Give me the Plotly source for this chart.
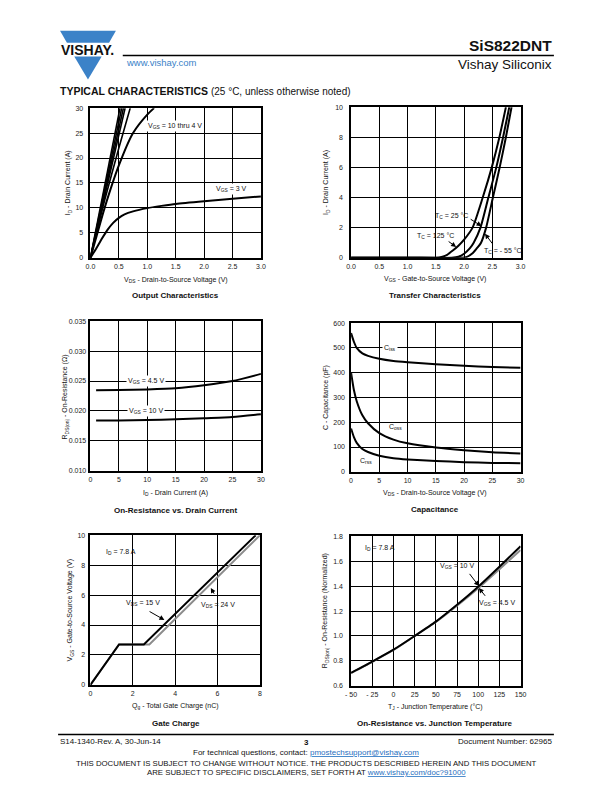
import plotly.graph_objects as go

# page geometry (the browser adds an 8px body margin, so the figure is placed at 8,8;
# the figure is sized so the page never overflows the 612x792 window)
PAGE_W, PAGE_H = 612, 792
OFF = 8
W, H = PAGE_W - 2 * OFF, PAGE_H - 2 * OFF
FONT = "Liberation Sans, Arial, sans-serif"

# ---------------- data ----------------
# Output characteristics (VDS in V, ID in A)
oc_steep_v = [[0, 0.52], [0, 0.55], [0, 0.58], [0, 0.61]]
oc_steep_i = [[0, 30], [0, 30], [0, 30], [0, 30]]
oc_vgs5_v = [0, 0.25, 0.5, 0.70]
oc_vgs5_i = [0, 11.5, 22, 30]
oc_vgs4_v = [0, 0.1, 0.25, 0.5, 0.75, 1.0, 1.12]
oc_vgs4_i = [0, 4, 10, 18.5, 25, 28.7, 30]
oc_vgs3_v = [0, 0.1, 0.2, 0.3, 0.4, 0.5, 0.6, 0.75, 1.0, 1.25, 1.5, 2.0, 2.5, 3.0]
oc_vgs3_i = [0, 1.8, 3.8, 5.6, 7.0, 8.0, 8.7, 9.3, 9.95, 10.4, 10.8, 11.35, 11.85, 12.3]

# Transfer characteristics (VGS in V, ID in A)
tc125_v = [0, 1.0, 1.5, 1.6, 1.7, 1.8, 1.9, 2.0, 2.15, 2.33, 2.49, 2.625, 2.74]
tc125_i = [0, 0, 0, 0.05, 0.2, 0.48, 0.8, 1.2, 2.0, 4.0, 6.0, 8.0, 10.0]
tc25_v = [0, 1.0, 1.78, 1.9, 2.0, 2.1, 2.17, 2.29, 2.43, 2.57, 2.69, 2.80]
tc25_i = [0, 0, 0, 0.07, 0.27, 0.62, 1.0, 2.0, 4.0, 6.0, 8.0, 10.0]
tcm55_v = [0, 1.0, 1.95, 2.05, 2.15, 2.22, 2.30, 2.39, 2.51, 2.63, 2.74, 2.84]
tcm55_i = [0, 0, 0, 0.06, 0.3, 0.6, 1.0, 2.0, 4.0, 6.0, 8.0, 10.0]

# On-resistance vs drain current
rds_id = [1, 5, 10, 15, 20, 25, 30]
rds_vgs45 = [0.02345, 0.0235, 0.0236, 0.0238, 0.0243, 0.0250, 0.0262]
rds_vgs10 = [0.0184, 0.01842, 0.0185, 0.0186, 0.0188, 0.0190, 0.01945]

# Capacitance (VDS in V, C in pF)
cap_v = [0, 0.5, 1, 2, 3, 5, 7.5, 10, 15, 20, 25, 30]
cap_ciss = [560, 525, 500, 478, 468, 456, 447, 442, 434, 428, 423, 420]
cap_coss = [400, 330, 285, 228, 196, 156, 130, 115, 98, 87, 79, 74]
cap_crss = [175, 140, 117, 92, 80, 65, 55, 50, 44, 39, 36, 35]

# Gate charge (Qg in nC, VGS in V)
gc_qg_15 = [0, 1.35, 2.52, 7.8]
gc_vgs_15 = [0, 2.7, 2.7, 10]
gc_qg_24 = [0, 1.35, 2.78, 8.0]
gc_vgs_24 = [0, 2.7, 2.7, 10]

# Normalized on-resistance vs junction temperature
tj = [-50, -25, 0, 25, 50, 75, 100, 125, 150]
rn_vgs10 = [0.705, 0.795, 0.89, 1.0, 1.115, 1.25, 1.395, 1.555, 1.72]
rn_vgs45 = [0.703, 0.793, 0.888, 1.0, 1.112, 1.243, 1.383, 1.535, 1.69]

tj_ticks = [-50, -25, 0, 25, 50, 75, 100, 125, 150]
tj_ticktext = ["- 50", "- 25", "0", "25", "50", "75", "100", "125", "150"]

# ---------------- helpers ----------------
def px(x):
    return (x - OFF) / W

def py(y):
    return 1 - (y - OFF) / H

fig = go.Figure()

BLACK = "#000000"
GRAY = "#8c8c8c"

def add_line(x, y, n, color=BLACK, shape="spline", width=2):
    xa = "x" if n == 1 else f"x{n}"
    ya = "y" if n == 1 else f"y{n}"
    fig.add_trace(go.Scatter(x=x, y=y, mode="lines", xaxis=xa, yaxis=ya,
                             line=dict(color=color, width=width, shape=shape, smoothing=0.6),
                             showlegend=False, hoverinfo="skip"))

# chart 1
for xv, yv in zip(oc_steep_v, oc_steep_i):
    add_line(xv, yv, 1, shape="linear", width=1.6)
add_line(oc_vgs5_v, oc_vgs5_i, 1, width=1.6)
add_line(oc_vgs4_v, oc_vgs4_i, 1)
add_line(oc_vgs3_v, oc_vgs3_i, 1)
# chart 2
add_line(tc125_v, tc125_i, 2)
add_line(tc25_v, tc25_i, 2)
add_line(tcm55_v, tcm55_i, 2)
# chart 3
add_line(rds_id, rds_vgs45, 3)
add_line(rds_id, rds_vgs10, 3)
# chart 4
add_line(cap_v, cap_ciss, 4)
add_line(cap_v, cap_coss, 4)
add_line(cap_v, cap_crss, 4)
# chart 5
add_line(gc_qg_24, gc_vgs_24, 5, color=GRAY, shape="linear")
add_line(gc_qg_15, gc_vgs_15, 5, shape="linear")
# chart 6
add_line(tj, rn_vgs45, 6, color=GRAY)
add_line(tj, rn_vgs10, 6)

# ---------------- axes ----------------
boxes = {
    1: (86, 260, 105, 256),
    2: (352, 525, 104, 256),
    3: (86, 260, 320, 471),
    4: (352, 525, 322, 472),
    5: (86, 259, 536, 687),
    6: (352, 525, 537, 688),
}
ystand = {1: 4, 2: 5, 3: 1, 4: 3, 5: 2, 6: 5}
xcfg = {
    1: dict(range=[0, 3], dtick=0.5, tick0=0, tickformat=".1f"),
    2: dict(range=[0, 3], dtick=0.5, tick0=0, tickformat=".1f"),
    3: dict(range=[0, 30], dtick=5, tick0=0),
    4: dict(range=[0, 30], dtick=5, tick0=0),
    5: dict(range=[0, 8], dtick=2, tick0=0),
    6: dict(range=[-50, 150], tickmode="array", tickvals=tj_ticks, ticktext=tj_ticktext),
}
ycfg = {
    1: dict(range=[0, 30], dtick=5, tick0=0),
    2: dict(range=[0, 10], dtick=2, tick0=0),
    3: dict(range=[0.010, 0.035], dtick=0.005, tick0=0.010, tickformat=".3f"),
    4: dict(range=[0, 600], dtick=100, tick0=0),
    5: dict(range=[0, 10], dtick=2, tick0=0),
    6: dict(range=[0.6, 1.8], dtick=0.2, tick0=0.6, tickformat=".1f"),
}
common = dict(showgrid=True, gridcolor=BLACK, gridwidth=1, showline=True, linecolor=BLACK,
              linewidth=1.5, mirror=True, zeroline=False, ticks="", fixedrange=True,
              tickfont=dict(family=FONT, size=7, color="#222"))
layout_axes = {}
for n, (x0, x1, y0, y1) in boxes.items():
    xname = "xaxis" if n == 1 else f"xaxis{n}"
    yname = "yaxis" if n == 1 else f"yaxis{n}"
    xd = dict(common, domain=[px(x0), px(x1)], anchor="y" if n == 1 else f"y{n}",
              ticklabelstandoff=1, **xcfg[n])
    yd = dict(common, domain=[py(y1), py(y0)], anchor="x" if n == 1 else f"x{n}",
              ticklabelstandoff=ystand[n], **ycfg[n])
    layout_axes[xname] = xd
    layout_axes[yname] = yd

fig.update_layout(width=W, height=H, margin=dict(l=0, r=0, t=0, b=0),
                  paper_bgcolor="white", plot_bgcolor="white", showlegend=False,
                  font=dict(family=FONT, color="#111"), **layout_axes)

ann = []

def text(x, y, s, size=7, bold=False, anchor="center", color="#111", angle=0, bg=None, yanchor="middle"):
    if bold:
        s = f"<b>{s}</b>"
    d = dict(xref="paper", yref="paper", x=px(x), y=py(y), text=s, showarrow=False,
             xanchor=anchor, yanchor=yanchor, textangle=angle,
             font=dict(family=FONT, size=size, color=color))
    if bg:
        d.update(bgcolor=bg, borderpad=1)
    ann.append(d)

def dtext(n, x, y, s, size=7, bg="white"):
    xr = "x" if n == 1 else f"x{n}"
    yr = "y" if n == 1 else f"y{n}"
    d = dict(xref=xr, yref=yr, x=x, y=y, text=s, showarrow=False,
             font=dict(family=FONT, size=size, color="#111"), xanchor="center", yanchor="middle")
    if bg:
        d.update(bgcolor=bg, borderpad=1)
    ann.append(d)

def arrow(n, x_head, y_head, x_tail, y_tail):
    xr = "x" if n == 1 else f"x{n}"
    yr = "y" if n == 1 else f"y{n}"
    ann.append(dict(xref=xr, yref=yr, axref=xr, ayref=yr, x=x_head, y=y_head, ax=x_tail, ay=y_tail,
                    text="", showarrow=True, arrowhead=2, arrowsize=1, arrowwidth=1, arrowcolor=BLACK))

# in-chart labels
dtext(1, 1.48, 26.4, "V<sub>GS</sub> = 10 thru 4 V")
dtext(1, 2.48, 13.8, "V<sub>GS</sub> = 3 V")

dtext(2, 1.78, 2.78, "T<sub>C</sub> = 25 °C", bg=None)
arrow(2, 2.31, 2.1, 2.09, 2.62)
dtext(2, 1.49, 1.45, "T<sub>C</sub> = 125 °C", bg=None)
arrow(2, 1.86, 0.72, 1.70, 1.15)
dtext(2, 2.69, 0.46, "T<sub>C</sub> = - 55 °C", bg=None)
arrow(2, 2.37, 1.6, 2.52, 0.84)

dtext(3, 9.7, 0.0250, "V<sub>GS</sub> = 4.5 V")
dtext(3, 9.7, 0.0200, "V<sub>GS</sub> = 10 V")

dtext(4, 6.9, 499, "C<sub>iss</sub>")
dtext(4, 7.9, 180, "C<sub>oss</sub>", bg=None)
dtext(4, 2.6, 43, "C<sub>rss</sub>", bg=None)

dtext(5, 1.45, 8.85, "I<sub>D</sub> = 7.8 A", bg=None)
dtext(5, 2.48, 5.44, "V<sub>DS</sub> = 15 V", bg=None)
arrow(5, 3.49, 4.34, 2.72, 4.96)
dtext(5, 6.0, 5.37, "V<sub>DS</sub> = 24 V", bg=None)
arrow(5, 5.68, 6.48, 5.88, 5.99)

dtext(6, -16, 1.705, "I<sub>D</sub> = 7.8 A", bg=None)
dtext(6, 75, 1.56, "V<sub>GS</sub> = 10 V", bg=None)
arrow(6, 100.8, 1.40, 88.5, 1.51)
dtext(6, 122, 1.262, "V<sub>GS</sub> = 4.5 V", bg=None)
arrow(6, 100.8, 1.385, 109.6, 1.31)

# axis titles
text(173, 278, "V<sub>DS</sub> - Drain-to-Source Voltage (V)")
text(438, 277, "V<sub>GS</sub> - Gate-to-Source Voltage (V)")
text(173, 493, "I<sub>D</sub> - Drain Current (A)")
text(438, 493, "V<sub>DS</sub> - Drain-to-Source Voltage (V)")
text(173, 708, "Q<sub>g</sub> - Total Gate Charge (nC)")
text(438, 709, "T<sub>J</sub> - Junction Temperature (°C)")

text(64, 180, "I<sub>D</sub> - Drain Current (A)", angle=-90)
text(327, 180, "I<sub>D</sub> - Drain Current (A)", angle=-90)
text(60, 396, "R<sub>DS(on)</sub> - On-Resistance (Ω)", angle=-90)
text(327, 397, "C - Capacitance (pF)", angle=-90)
text(65, 612, "V<sub>GS</sub> - Gate-to-Source Voltage (V)", angle=-90)
text(325, 612, "R<sub>DS(on)</sub> - On-Resistance (Normalized)", angle=-90)

# chart titles
text(173, 294, "Output Characteristics", size=8, bold=True)
text(438, 294, "Transfer Characteristics", size=8, bold=True)
text(173, 511, "On-Resistance vs. Drain Current", size=8, bold=True)
text(438, 510, "Capacitance", size=8, bold=True)
text(173, 726, "Gate Charge", size=8, bold=True)
text(438, 726, "On-Resistance vs. Junction Temperature", size=8, bold=True)

# header
BLUE = "#3b82c8"
text(559, 42, "SiS822DNT", size=15.5, bold=True, anchor="right")
text(559, 61, "Vishay Siliconix", size=13.5, anchor="right")
text(120, 59, "www.vishay.com", size=9.5, anchor="left", color=BLUE)
text(53, 88, "<b>TYPICAL CHARACTERISTICS</b> <span style='font-size:10px'>(25 °C, unless otherwise noted)</span>",
     size=10.5, anchor="left")
text(83, 46, "VISHAY.", size=14, bold=True, color="#111")

# footer
text(53, 744, "S14-1340-Rev. A, 30-Jun-14", size=8, anchor="left")
text(306, 745, "3", size=8, bold=True)
text(559, 744, "Document Number: 62965", size=8, anchor="right")
text(306, 755, "For technical questions, contact: <span style='color:#1f6fc0'><u>pmostechsupport@vishay.com</u></span>", size=8)
text(306, 766, "THIS DOCUMENT IS SUBJECT TO CHANGE WITHOUT NOTICE. THE PRODUCTS DESCRIBED HEREIN AND THIS DOCUMENT", size=7.8)
text(306, 775, "ARE SUBJECT TO SPECIFIC DISCLAIMERS, SET FORTH AT <span style='color:#1f6fc0'><u>www.vishay.com/doc?91000</u></span>", size=7.8)

fig.update_layout(annotations=ann)

# shapes: header rule, footer rule, logo
def path(points):
    return "M " + " L ".join(f"{px(x)},{py(y)}" for x, y in points) + " Z"

shapes = [
    dict(type="line", xref="paper", yref="paper", x0=px(119), x1=px(559), y0=py(52), y1=py(52),
         line=dict(color="black", width=1.5)),
    dict(type="line", xref="paper", yref="paper", x0=px(53), x1=px(559), y0=py(737), y1=py(737),
         line=dict(color="black", width=1.5)),
    dict(type="path", xref="paper", yref="paper", path=path([(55, 27), (112, 27), (105, 39), (62, 39)]),
         fillcolor=BLUE, line=dict(width=0)),
    dict(type="path", xref="paper", yref="paper", path=path([(69.5, 53), (97.5, 53), (83.5, 76)]),
         fillcolor=BLUE, line=dict(width=0)),
]
fig.update_layout(shapes=shapes)

fig.write_html("out.html")
